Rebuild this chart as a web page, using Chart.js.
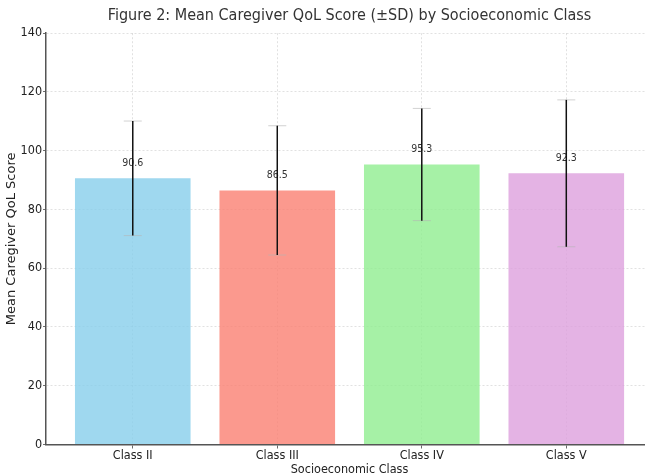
<!DOCTYPE html>
<html>
<head>
<meta charset="utf-8">
<script src="https://cdn.jsdelivr.net/npm/chart.js@4.4.1/dist/chart.umd.min.js"></script>
<style>
  html, body { margin: 0; padding: 0; background: #fff; }
  #wrap { width: 645px; height: 476px; overflow: hidden; }
</style>
</head>
<body>
<div id="wrap"><canvas id="qolChart" width="660" height="476"></canvas></div>
<script>
// Data
const classes = ['Class II', 'Class III', 'Class IV', 'Class V'];
const meanScores = [90.6, 86.5, 95.3, 92.3];
const sdValues = [19.5, 22.0, 19.1, 25.0];
const barColors = [
    'rgba(135, 206, 235, 0.8)',
    'rgba(250, 128, 114, 0.8)',
    'rgba(144, 238, 144, 0.8)',
    'rgba(221, 160, 221, 0.8)'
];
const yTicks = [0, 20, 40, 60, 80, 100, 120, 140];

const fontFamily = '"DejaVu Sans Condensed", "DejaVu Sans", sans-serif';

// error bars + value labels
const errorBarPlugin = {
    id: 'errorBars',
    afterDatasetsDraw(chart) {
        const ctx = chart.ctx;
        const xs = chart.scales.x;
        const ys = chart.scales.y;
        ctx.save();
        meanScores.forEach((v, i) => {
            const x = xs.getPixelForValue(i);
            const yTop = ys.getPixelForValue(v + sdValues[i]);
            const yBot = ys.getPixelForValue(v - sdValues[i]);

            // label first so the error line goes over it
            ctx.fillStyle = '#333';
            ctx.font = '10.5px ' + fontFamily;
            ctx.textAlign = 'center';
            ctx.textBaseline = 'middle';
            ctx.fillText(v.toFixed(1), x, ys.getPixelForValue(v + 5.2));

            ctx.strokeStyle = 'rgba(180,180,180,0.6)';
            ctx.lineWidth = 1;
            ctx.beginPath();
            ctx.moveTo(x - 9, yTop); ctx.lineTo(x + 9, yTop);
            ctx.moveTo(x - 9, yBot); ctx.lineTo(x + 9, yBot);
            ctx.stroke();

            ctx.strokeStyle = '#111';
            ctx.lineWidth = 1.5;
            ctx.beginPath();
            ctx.moveTo(x, yTop);
            ctx.lineTo(x, yBot);
            ctx.stroke();
        });
        ctx.restore();
    }
};

const ctx = document.getElementById('qolChart').getContext('2d');
new Chart(ctx, {
    type: 'bar',
    data: {
        datasets: [{
            data: meanScores.map((v, i) => ({ x: i, y: v })),
            backgroundColor: barColors,
            borderWidth: 0,
            barPercentage: 0.8,
            categoryPercentage: 1.0
        }]
    },
    options: {
        responsive: false,
        animation: false,
        layout: { padding: { left: 0, right: 7, top: 6, bottom: 0 } },
        plugins: {
            legend: { display: false },
            tooltip: { enabled: false },
            title: {
                display: true,
                fullSize: false,
                text: 'Figure 2: Mean Caregiver QoL Score (±SD) by Socioeconomic Class',
                color: '#333',
                font: { family: fontFamily, size: 16, weight: 'normal' },
                padding: { top: 0, bottom: 8 }
            }
        },
        scales: {
            x: {
                type: 'linear',
                offset: false,
                min: -0.6,
                max: 3.6,
                afterBuildTicks: axis => {
                    axis.ticks = classes.map((c, i) => ({ value: i }));
                },
                ticks: {
                    color: '#222',
                    font: { family: fontFamily, size: 12.5 },
                    padding: 0,
                    callback: v => classes[v]
                },
                grid: {
                    offset: false,
                    color: 'rgba(0,0,0,0.15)',
                    tickColor: '#444',
                    tickLength: 4,
                    lineWidth: 0.8
                },
                border: { display: true, color: '#555', width: 1.5, dash: [2, 2] },
                title: {
                    display: true,
                    text: 'Socioeconomic Class',
                    color: '#222',
                    font: { family: fontFamily, size: 12.5, lineHeight: 1.0 },
                    padding: { top: 0, bottom: 0 }
                }
            },
            y: {
                min: 0,
                max: 140,
                afterBuildTicks: axis => {
                    axis.ticks = yTicks.map(v => ({ value: v }));
                },
                ticks: {
                    color: '#222',
                    font: { family: fontFamily, size: 12.5 },
                    padding: 1
                },
                grid: {
                    color: 'rgba(0,0,0,0.15)',
                    tickColor: '#444',
                    tickLength: 3,
                    lineWidth: 0.8
                },
                border: { display: true, color: '#555', width: 1.5, dash: [2, 2] },
                title: {
                    display: true,
                    text: 'Mean Caregiver QoL Score',
                    color: '#222',
                    font: { family: '"DejaVu Sans", sans-serif', size: 13 },
                    padding: { top: 4, bottom: 0 }
                }
            }
        }
    },
    plugins: [errorBarPlugin]
});
</script>
</body>
</html>
